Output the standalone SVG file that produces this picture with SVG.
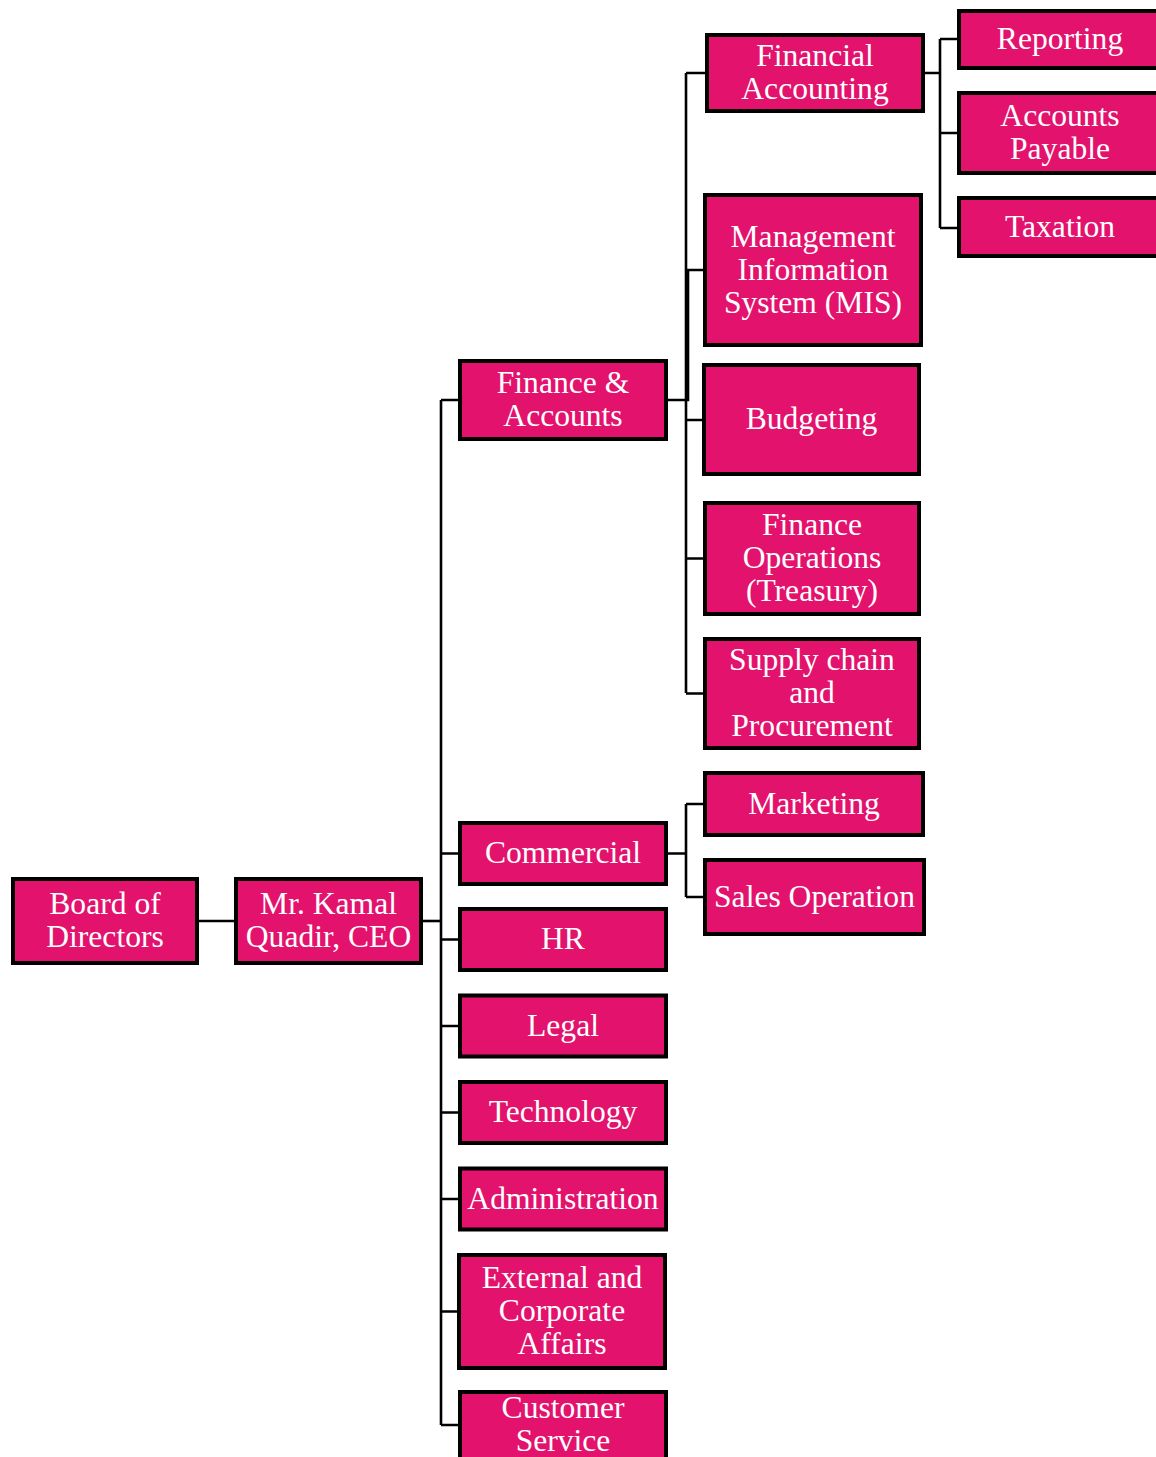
<svg xmlns="http://www.w3.org/2000/svg" width="1156" height="1457" viewBox="0 0 1156 1457">
<style>
.box{fill:#E3126D;stroke:#000;stroke-width:4}
.t{font-family:"Liberation Serif","Times New Roman",serif;font-size:31.6px;fill:#fff;text-anchor:middle;transform:translateY(-1.5px)}
.c{fill:none;stroke:#000;stroke-width:2.6}
</style>
<rect width="1156" height="1457" fill="#fff"/>
<g id="connectors" class="c">
<path d="M199 921H234"/>
<path d="M423 921H441"/>
<path d="M441 400V1425"/>
<path d="M441 400H458M441 853.5H458M441 939.5H458M441 1026H458M441 1112.5H458M441 1199H458M441 1311.5H458M441 1425H458"/>
<path d="M668 400H688V270"/>
<path d="M686 73V693"/>
<path d="M686 73H705M686 270H703M686 420H702M686 558.5H703M686 693.5H703"/>
<path d="M668 853.5H686M686 804V897M686 804H703M686 897H703"/>
<path d="M925 73H940M940 39V228M940 39H957M940 133H957M940 228H957"/>
</g>
<g id="board"><rect class="box" x="13" y="879" width="184" height="84"/><text class="t" x="105"><tspan x="105" y="915.5">Board of</tspan><tspan x="105" y="948.5">Directors</tspan></text></g>
<g id="ceo"><rect class="box" x="236" y="879" width="185" height="84"/><text class="t"><tspan x="328.5" y="915.5">Mr. Kamal</tspan><tspan x="328.5" y="948.5">Quadir, CEO</tspan></text></g>
<g id="finance-accounts"><rect class="box" x="460" y="361" width="206" height="78"/><text class="t"><tspan x="563" y="394.5">Finance &amp;</tspan><tspan x="563" y="427.5">Accounts</tspan></text></g>
<g id="commercial"><rect class="box" x="460" y="823" width="206" height="61"/><text class="t" x="563" y="864.5">Commercial</text></g>
<g id="hr"><rect class="box" x="460" y="909" width="206" height="61"/><text class="t" x="563" y="950.5">HR</text></g>
<g id="legal"><rect class="box" x="460" y="995.5" width="206" height="61"/><text class="t" x="563" y="1037">Legal</text></g>
<g id="technology"><rect class="box" x="460" y="1082" width="206" height="61"/><text class="t" x="563" y="1123.5">Technology</text></g>
<g id="administration"><rect class="box" x="460" y="1168.5" width="206" height="61"/><text class="t" x="563" y="1210">Administration</text></g>
<g id="external"><rect class="box" x="459" y="1255" width="206" height="113"/><text class="t"><tspan x="562" y="1289.5">External and</tspan><tspan x="562" y="1322.5">Corporate</tspan><tspan x="562" y="1355.5">Affairs</tspan></text></g>
<g id="customer-service"><rect class="box" x="460" y="1392" width="206" height="68"/><text class="t"><tspan x="563" y="1419.5">Customer</tspan><tspan x="563" y="1452.5">Service</tspan></text></g>
<g id="financial-accounting"><rect class="box" x="707" y="35" width="216" height="76"/><text class="t"><tspan x="815" y="67.5">Financial</tspan><tspan x="815" y="100.5">Accounting</tspan></text></g>
<g id="mis"><rect class="box" x="705" y="195" width="216" height="150"/><text class="t"><tspan x="813" y="248">Management</tspan><tspan x="813" y="281">Information</tspan><tspan x="813" y="314">System (MIS)</tspan></text></g>
<g id="budgeting"><rect class="box" x="704" y="365" width="215" height="109"/><text class="t" x="811.5" y="430.5">Budgeting</text></g>
<g id="finance-operations"><rect class="box" x="705" y="503" width="214" height="111"/><text class="t"><tspan x="812" y="536.5">Finance</tspan><tspan x="812" y="569.5">Operations</tspan><tspan x="812" y="602.5">(Treasury)</tspan></text></g>
<g id="supply-chain"><rect class="box" x="705" y="639" width="214" height="109"/><text class="t"><tspan x="812" y="671.5">Supply chain</tspan><tspan x="812" y="704.5">and</tspan><tspan x="812" y="737.5">Procurement</tspan></text></g>
<g id="marketing"><rect class="box" x="705" y="773" width="218" height="62"/><text class="t" x="814" y="815">Marketing</text></g>
<g id="sales-operation"><rect class="box" x="705" y="860" width="219" height="74"/><text class="t" x="814.5" y="908">Sales Operation</text></g>
<g id="reporting"><rect class="box" x="959" y="11" width="202" height="57"/><text class="t" x="1060" y="50.5">Reporting</text></g>
<g id="accounts-payable"><rect class="box" x="959" y="93" width="202" height="80"/><text class="t"><tspan x="1060" y="127.5">Accounts</tspan><tspan x="1060" y="160.5">Payable</tspan></text></g>
<g id="taxation"><rect class="box" x="959" y="198" width="202" height="58"/><text class="t" x="1060" y="238">Taxation</text></g>
</svg>
